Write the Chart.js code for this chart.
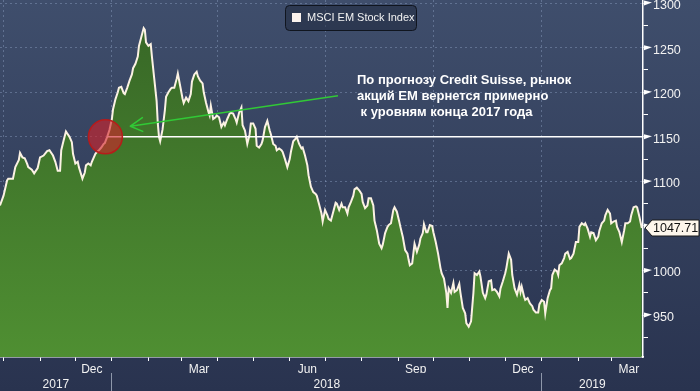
<!DOCTYPE html>
<html>
<head>
<meta charset="utf-8">
<script src="https://cdn.jsdelivr.net/npm/chart.js@4.4.1/dist/chart.umd.min.js"></script>
<style>
  html, body { margin: 0; padding: 0; background: #2c3756; }
</style>
</head>
<body>
<canvas id="chart" width="700" height="391"></canvas>
<script>
// MSCI EM Stock Index, x = days since 1 Oct 2017
const days = [
  -3, 0, 3, 4, 8, 10, 13, 14, 16, 18, 20, 21, 24, 26, 29, 31, 34, 37, 39, 42, 44, 46, 48, 49, 51, 53, 54, 56, 58, 59,
  61, 63, 64, 67, 69, 70, 72, 74, 75, 78, 80, 81, 83, 85, 86, 88, 90,
  92, 93, 95, 97, 98, 100, 102, 103, 105, 107, 109, 110, 112, 114, 115, 117, 119, 120, 121, 123, 125, 126, 128, 130,
  131, 132, 133, 135, 137, 138, 140, 142, 143, 145, 147, 148, 150, 152, 153, 155, 157, 159, 160, 162, 164, 165, 167,
  169, 170, 172, 174,
  175, 176, 178, 180, 181, 183, 185, 187, 188, 190, 192, 193, 195, 197, 198, 200, 202, 203, 205, 207, 209, 210, 212,
  214, 215, 217, 219, 220, 222, 224, 226, 227, 229, 231, 232, 234, 236, 237, 239, 241, 243, 244, 246, 248, 249, 251,
  253, 254, 256, 258, 259, 261, 263,
  265, 266, 268, 270, 271, 273, 275, 276, 278, 280, 282, 283, 285, 287, 288, 290, 292, 293, 295, 297, 298, 300, 302,
  304, 305, 307, 309, 310, 312, 314, 315, 317, 319, 321, 322, 324, 326, 327, 329, 331, 332, 334, 336, 337, 339, 341,
  343, 344,
  345, 347, 349, 351, 353, 354, 356, 357, 359, 360, 362, 364, 365, 367, 369, 371, 372, 374, 376, 377, 378, 380, 382,
  383, 385, 387, 388, 390, 392, 393, 395, 397, 399, 400, 402, 404, 405, 407, 409, 410, 412, 414, 415, 417, 419, 421,
  422, 424, 426, 427, 429, 431, 432, 434, 436, 438, 439,
  440, 442, 443, 445, 447, 449, 450, 452, 454, 455, 457, 459, 460, 462, 464, 465, 466, 468, 470, 471, 472, 474, 476,
  477, 479, 481, 482, 484, 486, 488, 489, 491, 493, 494, 496, 498, 499, 501, 503, 505, 506, 508, 510, 511, 513, 515,
  516, 518, 520, 521, 523, 525, 527, 528, 530, 532, 533, 535, 537, 538, 540, 542
];
const closes = [
  1073, 1084, 1101, 1103, 1103, 1116, 1124, 1132, 1127, 1126, 1120, 1116, 1113, 1109, 1115, 1127, 1129, 1134, 1135,
  1129, 1122, 1112, 1112, 1135, 1146, 1156, 1154, 1150, 1144, 1131, 1120, 1122, 1116, 1103, 1110, 1118, 1120, 1118,
  1122, 1131, 1134, 1135, 1138, 1142, 1143, 1150, 1158,
  1170, 1181, 1192, 1200, 1205, 1206, 1199, 1198, 1205, 1213, 1220, 1227, 1232, 1240, 1252, 1262, 1272, 1270, 1256,
  1252, 1254, 1240, 1215, 1190, 1165, 1150, 1145, 1158, 1180, 1195, 1200, 1204, 1205, 1205, 1215, 1221, 1207, 1193,
  1188, 1194, 1190, 1198, 1212, 1220, 1223, 1218, 1213, 1210, 1200, 1188, 1178,
  1174, 1185, 1170, 1172, 1174, 1172, 1161, 1166, 1163, 1170, 1176, 1177, 1176, 1170, 1166, 1177, 1183, 1163, 1157,
  1142, 1153, 1165, 1165, 1159, 1140, 1138, 1142, 1146, 1161, 1168, 1157, 1153, 1142, 1140, 1135, 1137, 1135, 1133,
  1125, 1116, 1125, 1133, 1145, 1148, 1150, 1142, 1137, 1138, 1129, 1118, 1107, 1094, 1088,
  1086, 1084, 1074, 1064, 1055, 1068, 1062, 1058, 1056, 1066, 1076, 1075, 1068, 1075, 1071, 1071, 1064, 1071, 1077,
  1084, 1091, 1093, 1090, 1086, 1077, 1070, 1073, 1081, 1081, 1073, 1056, 1045, 1030, 1025, 1029, 1042, 1049, 1051,
  1053, 1068, 1071, 1066, 1055, 1049, 1038, 1023, 1019, 1012,
  1006, 1008, 1030, 1021, 1029, 1036, 1042, 1052, 1043, 1043, 1051, 1050, 1043, 1032, 1019, 1003, 997, 991, 975, 958,
  980, 975, 986, 976, 978, 985, 975, 958, 952, 941, 937, 943, 975, 997, 995, 999, 993, 975, 969, 973, 988, 989, 978,
  979, 976, 971, 980, 988, 997, 1003, 1019, 1012, 995, 980, 973, 984, 976,
  982, 971, 967, 969, 963, 960, 956, 953, 953, 962, 967, 965, 952, 969, 978, 980, 995, 1001, 999, 995, 1006, 1008,
  1014, 1019, 1021, 1013, 1014, 1019, 1032, 1032, 1049, 1053, 1051, 1053, 1047, 1038, 1043, 1042, 1034, 1038, 1045,
  1053, 1056, 1062, 1068, 1064, 1053, 1055, 1056, 1049, 1043, 1032, 1045, 1053, 1053, 1055, 1062, 1071, 1072, 1071,
  1060, 1047.71
];

// axis ticks (days since 1 Oct 2017)
const monthStarts = [0, 31, 61, 92, 123, 151, 182, 212, 243, 273, 304, 335, 365, 396, 426, 457, 488, 516];
const quarterStarts = [0, 92, 182, 273, 365, 457];
const monthLabelDays = [75, 166, 258, 350, 441, 531];
const monthLabels = ['Dec', 'Mar', 'Jun', 'Sep', 'Dec', 'Mar'];
const yearStarts = [92, 457];
const yearLabels = ['2017', '2018', '2019'];
const yLabels = [950, 1000, 1050, 1100, 1150, 1200, 1250, 1300];

const xMin = -3, xMax = 543;
const yMin = 903, yMax = 1303.5;

// annotation: level of end of 2017, circle, arrow
const level = 1150;
const circlePoint = [{x: 86.5, y: 1150}];
const levelLine = [{x: 88, y: level}, {x: xMax, y: level}];
const arrowPath = [
  {x: 284, y: 1196.2}, {x: 107.7, y: 1161.9}, {x: 117.9, y: 1171.6},
  {x: 107.7, y: 1161.9}, {x: 118.7, y: 1155.9}
];
const noteLines = ['По прогнозу Credit Suisse, рынок', 'акций EM вернется примерно', ' к уровням конца 2017 года'];

const series = days.map((d, i) => ({x: d, y: closes[i]}));
const yearEdges = [xMin].concat(yearStarts, [xMax]);
const yearCentres = yearLabels.map((_, i) => (yearEdges[i] + yearEdges[i + 1]) / 2);
// a minor tick half way below every labelled one
const yTickValues = yLabels.flatMap(v => [v - 25, v]);

const font = '"Liberation Sans", Arial, sans-serif';
const white = '#f2f2f2';
const gridDash = 'rgba(150,170,205,0.40)';

const background = {
  id: 'background',
  beforeDraw(chart) {
    const {ctx, width, height} = chart;
    const g = ctx.createLinearGradient(0, 0, 0, height);
    g.addColorStop(0, '#3f4e6c');
    g.addColorStop(1, '#29334f');
    ctx.save();
    ctx.fillStyle = g;
    ctx.fillRect(0, 0, width, height);
    ctx.restore();
  }
};

const overlay = {
  id: 'overlay',
  afterDraw(chart) {
    const {ctx, chartArea: a, scales: {y}, width} = chart;
    ctx.save();

    // little flags on the labelled y ticks
    ctx.fillStyle = '#ffffff';
    yLabels.forEach(v => {
      const py = y.getPixelForValue(v);
      ctx.beginPath();
      ctx.moveTo(a.right + 1, py - 2.5);
      ctx.lineTo(a.right + 9, py - 0.5);
      ctx.lineTo(a.right + 1, py + 2.5);
      ctx.closePath();
      ctx.fill();
    });

    // legend box
    ctx.beginPath();
    ctx.roundRect(285.5, 5.5, 131, 25, 4);
    ctx.fillStyle = 'rgba(25,33,52,0.45)';
    ctx.fill();
    ctx.strokeStyle = '#10151f';
    ctx.lineWidth = 1;
    ctx.stroke();
    ctx.fillStyle = '#fbf3ee';
    ctx.fillRect(292, 13, 9, 9);
    ctx.fillStyle = white;
    ctx.font = '11px ' + font;
    ctx.textBaseline = 'middle';
    ctx.fillText(chart.data.datasets[0].label, 307, 18);

    // note text
    ctx.fillStyle = '#ffffff';
    ctx.font = 'bold 13px ' + font;
    ctx.textBaseline = 'alphabetic';
    noteLines.forEach((t, i) => ctx.fillText(t, 357, 84 + i * 16));

    // last value tag
    const last = closes[closes.length - 1];
    const py = y.getPixelForValue(last);
    ctx.beginPath();
    ctx.moveTo(a.right + 2, py);
    ctx.lineTo(a.right + 9, py - 8);
    ctx.lineTo(width - 1, py - 8);
    ctx.lineTo(width - 1, py + 8);
    ctx.lineTo(a.right + 9, py + 8);
    ctx.closePath();
    ctx.fillStyle = '#fdf6ec';
    ctx.fill();
    ctx.strokeStyle = '#1a1a1a';
    ctx.stroke();
    ctx.fillStyle = '#111111';
    ctx.font = '12.5px ' + font;
    ctx.textBaseline = 'middle';
    ctx.fillText(last.toFixed(2), a.right + 10, py + 0.5);

    ctx.restore();
  }
};

new Chart(document.getElementById('chart'), {
  type: 'line',
  data: {
    datasets: [
      {
        label: 'MSCI EM Stock Index',
        data: series,
        borderColor: '#fbf2e3',
        borderWidth: 2,
        pointRadius: 0,
        fill: 'start',
        backgroundColor: c => {
          const area = c.chart.chartArea;
          if (!area) return '#44802d';
          const g = c.chart.ctx.createLinearGradient(0, area.top, 0, area.bottom);
          g.addColorStop(0, '#366526');
          g.addColorStop(1, '#4f8f32');
          return g;
        },
        order: 3
      },
      {
        label: 'level',
        data: levelLine,
        borderColor: '#ffffff',
        borderWidth: 1.5,
        pointRadius: 0,
        fill: false,
        order: 2
      },
      {
        label: 'arrow',
        data: arrowPath,
        borderColor: '#31c936',
        borderWidth: 1.5,
        borderJoinStyle: 'round',
        pointRadius: 0,
        fill: false,
        order: 1
      },
      {
        label: 'circle',
        data: circlePoint,
        showLine: false,
        pointRadius: 17,
        pointBackgroundColor: 'rgba(210,34,42,0.62)',
        pointBorderColor: 'rgba(185,25,25,0.95)',
        pointBorderWidth: 1.5,
        order: 0
      }
    ]
  },
  options: {
    responsive: false,
    animation: false,
    devicePixelRatio: 1,
    layout: { padding: 0, autoPadding: false },
    plugins: {
      legend: { display: false },
      tooltip: { enabled: false }
    },
    scales: {
      x: {
        type: 'linear',
        min: xMin,
        max: xMax,
        z: 1,
        afterBuildTicks: s => {
          s.ticks = monthStarts.concat(monthLabelDays).sort((p, q) => p - q).map(v => ({value: v}));
        },
        afterFit: s => { s.height = 16; s.paddingLeft = 0; s.paddingRight = 0; },
        ticks: {
          autoSkip: false,
          maxRotation: 0,
          padding: 1,
          color: white,
          font: { family: font, size: 12 },
          callback: v => {
            const i = monthLabelDays.indexOf(v);
            return i < 0 ? '' : monthLabels[i];
          }
        },
        grid: {
          color: c => (c.tick && quarterStarts.includes(c.tick.value)) ? gridDash : 'transparent',
          tickColor: c => (c.tick && monthStarts.includes(c.tick.value)) ? '#ffffff' : 'transparent',
          tickLength: 4,
          lineWidth: 1
        },
        border: { color: '#ffffff', width: 1.5, dash: [2, 3] }
      },
      years: {
        type: 'linear',
        position: 'bottom',
        weight: 1,
        min: xMin,
        max: xMax,
        afterBuildTicks: s => {
          s.ticks = yearStarts.concat(yearCentres).sort((p, q) => p - q).map(v => ({value: v}));
        },
        afterFit: s => { s.height = 18; s.paddingLeft = 0; s.paddingRight = 0; },
        ticks: {
          autoSkip: false,
          maxRotation: 0,
          padding: -14,
          color: white,
          font: { family: font, size: 12 },
          callback: v => {
            const i = yearCentres.indexOf(v);
            return i < 0 ? '' : yearLabels[i];
          }
        },
        grid: {
          drawOnChartArea: false,
          tickColor: c => (c.tick && yearStarts.includes(c.tick.value)) ? '#8e97aa' : 'transparent',
          tickLength: 18
        },
        border: { display: false }
      },
      y: {
        position: 'right',
        min: yMin,
        max: yMax,
        z: 1,
        afterBuildTicks: s => { s.ticks = yTickValues.map(v => ({value: v})); },
        afterFit: s => { s.width = 57; s.paddingTop = 0; s.paddingBottom = 0; },
        ticks: {
          autoSkip: false,
          padding: 5,
          labelOffset: 2.5,
          color: white,
          font: { family: font, size: 12.5 },
          callback: v => yLabels.includes(v) ? String(v) : ''
        },
        grid: {
          color: c => (c.tick && yLabels.includes(c.tick.value)) ? gridDash : 'transparent',
          tickColor: '#ffffff',
          tickLength: 5
        },
        border: { color: '#ffffff', width: 1.5, dash: [2, 3] }
      }
    }
  },
  plugins: [background, overlay]
});
</script>
</body>
</html>
